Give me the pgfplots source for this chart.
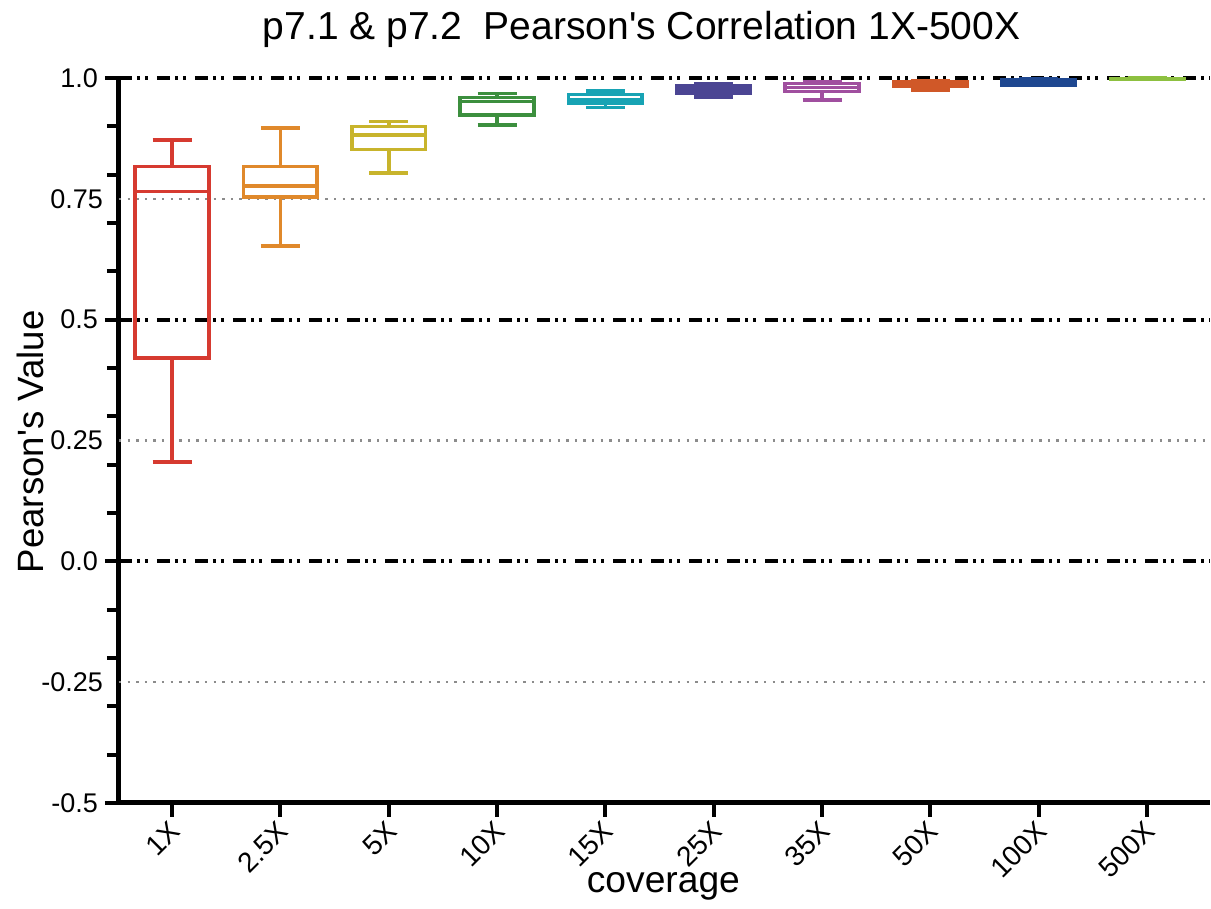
\documentclass[border=0pt]{standalone}
\usepackage{fontspec}
\setmainfont{Liberation Sans}[Ligatures=TeXOff]
\usepackage{pgfplots}
\pgfplotsset{compat=1.18}
\usepgfplotslibrary{statistics}

\definecolor{c1}{HTML}{D63A30}
\definecolor{c2}{HTML}{E0892B}
\definecolor{c3}{HTML}{C8B42C}
\definecolor{c4}{HTML}{3C8F3E}
\definecolor{c5}{HTML}{17A3B4}
\definecolor{c6}{HTML}{4B4593}
\definecolor{c7}{HTML}{A04F9F}
\definecolor{c8}{HTML}{D05828}
\definecolor{c9}{HTML}{1E4790}
\definecolor{c10}{HTML}{8DC040}

\pgfplotsset{
  bx/.style={line width=1.8pt, solid},
  refline/.style={black, line width=2pt, dash pattern=on 6.5pt off 2.5pt on 1.5pt off 2.5pt on 1.5pt off 4.5pt},
  dotline/.style={black!45, line width=1.3pt, dash pattern=on 1.2pt off 3.1pt},
}

\begin{document}
\begin{tikzpicture}
\useasboundingbox (-59.5pt,-53pt) rectangle (546pt,401.5pt);
\begin{axis}[
  at={(0,0)}, anchor=south west,
  scale only axis, width=545.5pt, height=362.5pt,
  xmin=-0.49, xmax=9.58, ymin=-0.5, ymax=1.0,
  clip=false,
  axis x line=bottom, axis y line=left,
  axis line style={line width=2.5pt, black, -},
  tick align=outside,
  xtick={0,...,9},
  xticklabels={1X,2.5X,5X,10X,15X,25X,35X,50X,100X,500X},
  x tick style={line width=2pt, black},
  y tick style={line width=2pt, black},
  major tick length=7pt,
  minor tick length=6pt,
  ytick={-0.5,0,0.5,1},
  yticklabels={-0.5,0.0,0.5,1.0},
  minor y tick num=4,
  extra y ticks={-0.25,0.25,0.75},
  extra y tick labels={-0.25,0.25,0.75},
  extra y tick style={major tick length=0pt, minor tick num=0, yticklabel style={xshift=-4.5pt}},
  yticklabel style={font=\fontsize{13.5}{13.5}\selectfont},
  xticklabel style={font=\fontsize{14}{14}\selectfont, rotate=45, anchor=east, xshift=1pt, yshift=-4.5pt},
  boxplot/draw direction=y,
  boxplot/box extend=0.68,
  boxplot/whisker extend=0.36,
  every axis title/.style={font=\fontsize{19.5}{19.5}\selectfont, at={(rel axis cs:0.479,1)}, anchor=base, yshift=19pt},
  title={p7.1 \& p7.2\ \ Pearson's Correlation 1X-500X},
  every axis x label/.style={font=\fontsize{18.6}{18.6}\selectfont, at={(rel axis cs:0.499,0)}, anchor=base, yshift=-45pt},
  xlabel={coverage},
  every axis y label/.style={font=\fontsize{18.3}{18.3}\selectfont, at={(rel axis cs:0,0.498)}, anchor=center, rotate=90, yshift=44.5pt},
  ylabel={Pearson's Value},
]
% reference lines
\addplot[refline] coordinates {(-0.49,1) (9.58,1)};
\addplot[refline] coordinates {(-0.49,0.5) (9.58,0.5)};
\addplot[refline] coordinates {(-0.49,0) (9.58,0)};
\addplot[dotline] coordinates {(-0.49,0.75) (9.58,0.75)};
\addplot[dotline] coordinates {(-0.49,0.25) (9.58,0.25)};
\addplot[dotline] coordinates {(-0.49,-0.25) (9.58,-0.25)};

% box plots, one per coverage level
\addplot[c1, bx, boxplot prepared={draw position=0, lower whisker=0.206, lower quartile=0.421, median=0.765, upper quartile=0.817, upper whisker=0.872}] coordinates {};
\addplot[c2, bx, boxplot prepared={draw position=1, lower whisker=0.653, lower quartile=0.754, median=0.777, upper quartile=0.817, upper whisker=0.897}] coordinates {};
\addplot[c3, bx, boxplot prepared={draw position=2, lower whisker=0.804, lower quartile=0.852, median=0.882, upper quartile=0.900, upper whisker=0.910}] coordinates {};
\addplot[c4, bx, boxplot prepared={draw position=3, lower whisker=0.903, lower quartile=0.923, median=0.951, upper quartile=0.960, upper whisker=0.968}] coordinates {};
\addplot[c5, bx, boxplot prepared={draw position=4, lower whisker=0.939, lower quartile=0.948, median=0.954, upper quartile=0.966, upper whisker=0.973}] coordinates {};
\addplot[c6, bx, boxplot prepared={draw position=5, lower whisker=0.961, lower quartile=0.968, median=0.975, upper quartile=0.983, upper whisker=0.988}] coordinates {};
\addplot[c7, bx, boxplot prepared={draw position=6, lower whisker=0.955, lower quartile=0.972, median=0.980, upper quartile=0.989, upper whisker=0.992}] coordinates {};
\addplot[c8, bx, boxplot prepared={draw position=7, lower whisker=0.975, lower quartile=0.982, median=0.987, upper quartile=0.992, upper whisker=0.994}] coordinates {};
\addplot[c9, bx, boxplot prepared={draw position=8, lower whisker=0.985, lower quartile=0.986, median=0.992, upper quartile=0.997, upper whisker=0.998}] coordinates {};
\addplot[c10, bx, boxplot prepared={draw position=9, lower whisker=0.997, lower quartile=0.998, median=0.9985, upper quartile=0.999, upper whisker=0.9995}] coordinates {};
\end{axis}
\end{tikzpicture}
\end{document}
